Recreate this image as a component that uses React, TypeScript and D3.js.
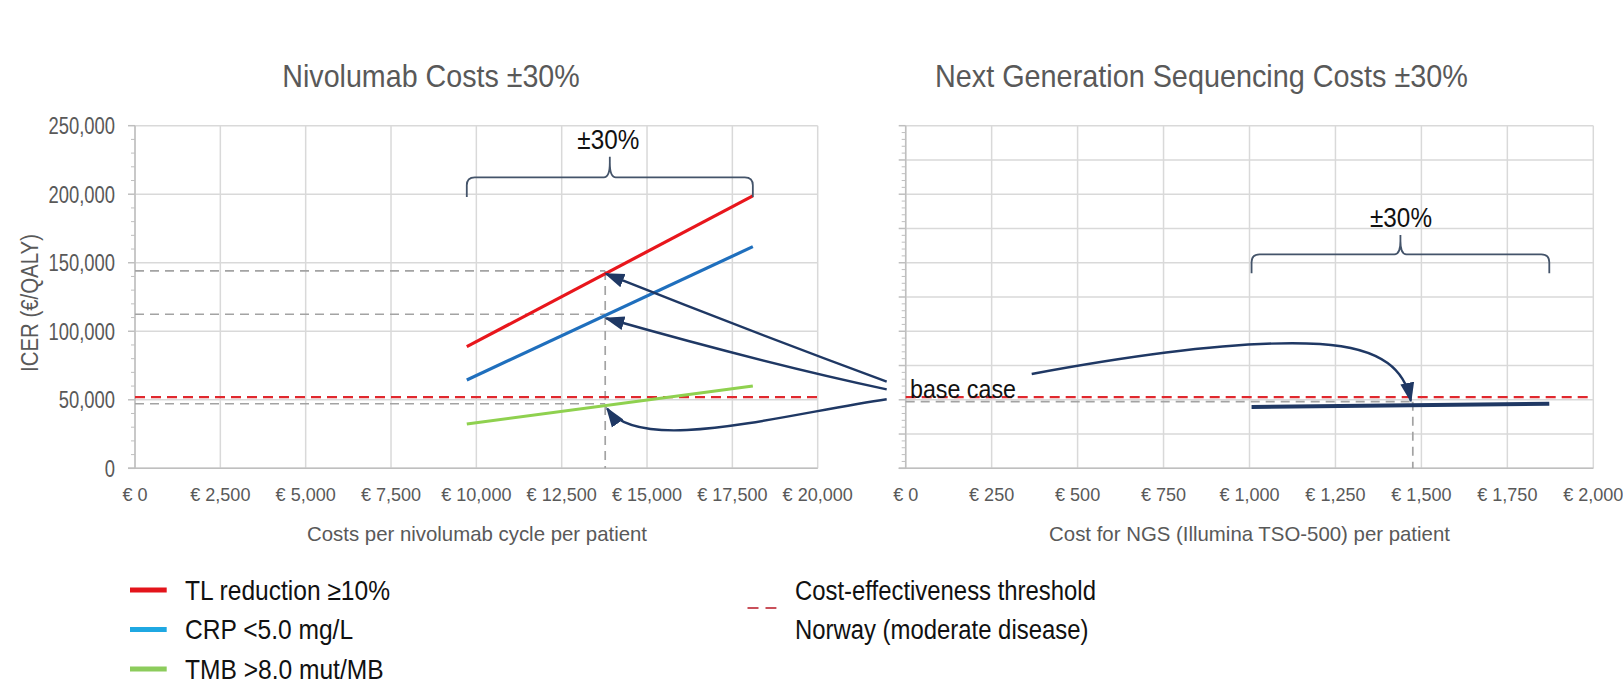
import React from 'react';
import * as d3 from 'd3';

// ---------- data ----------
const nivoTicks = [0, 2500, 5000, 7500, 10000, 12500, 15000, 17500, 20000];
const ngsTicks = [0, 250, 500, 750, 1000, 1250, 1500, 1750, 2000];
const icerTicks = [0, 50000, 100000, 150000, 200000, 250000];
const icerRightGrid = [0, 25000, 50000, 75000, 100000, 125000, 150000, 175000, 200000, 225000, 250000];

const nivoRange = [9720, 18100];
const nivoBase = 13775;
const tlReduction = [88760, 198760];
const crpLow = [64450, 161750];
const tmbHigh = [32340, 60070];
const baseIcerLeft = [144000, 112400, 47100];

const ngsRange = [1006, 1872];
const ngsIcer = [44740, 47150];
const ngsBase = 1475;
const baseIcerRight = 48600;

const threshold = 52000;

const seriesNames = ['TL reduction ≥10%', 'CRP <5.0 mg/L', 'TMB >8.0 mut/MB'];
const seriesValues = [tlReduction, crpLow, tmbHigh];
const seriesColors = ['#e8161c', '#1f6fbd', '#8fd14f'];
const legendColors = ['#e3141b', '#1fa8e2', '#8ccc5c'];
const thresholdLabel = ['Cost-effectiveness threshold', 'Norway (moderate disease)'];

// ---------- layout ----------
const W = 1623, H = 695;
const yTop = 125.7, yBot = 468.3;
const xL = d3.scaleLinear().domain([0, 20000]).range([135, 817.7]);
const xR = d3.scaleLinear().domain([0, 2000]).range([905.7, 1593.3]);
const y = d3.scaleLinear().domain([0, 250000]).range([yBot, yTop]);

const GRID = '#d9d9d9';
const AXIS = '#bfbfbf';
const TXT = '#595959';
const NAVY = '#1f3864';
const BRACE = '#44546a';
const GREY_DASH = '#a3a3a3';
const RED_DASH = '#e0282e';
const FONT = 'Liberation Sans, Arial, sans-serif';

const eur = (v: number) => '€ ' + d3.format(',')(v);

function T(props: any) {
  const { x, y: ty, size, sx = 1, anchor = 'start', fill = TXT, rot = 0, dy, children } = props;
  return (
    <text
      transform={`translate(${x},${ty}) rotate(${rot}) scale(${sx},1)`}
      fontSize={size}
      fontFamily={FONT}
      textAnchor={anchor}
      fill={fill}
      dy={dy}
    >
      {children}
    </text>
  );
}

function bracePath(x1: number, x2: number, yb: number, yh: number, ytop: number) {
  const cx = (x1 + x2) / 2;
  const r = 8;
  const p = d3.path();
  p.moveTo(x1, yb);
  p.lineTo(x1, yh + r);
  p.quadraticCurveTo(x1, yh, x1 + r, yh);
  p.lineTo(cx - 6, yh);
  p.quadraticCurveTo(cx, yh, cx, ytop + 6);
  p.lineTo(cx, ytop);
  p.moveTo(cx, ytop + 6);
  p.quadraticCurveTo(cx, yh, cx + 6, yh);
  p.lineTo(x2 - r, yh);
  p.quadraticCurveTo(x2, yh, x2, yh + r);
  p.lineTo(x2, yb);
  return p.toString();
}

export default function App() {
  const line = d3.line<[number, number]>().x(d => d[0]).y(d => d[1]);
  const leftMinor = d3.range(0, 250001, 10000).filter(v => v % 50000 !== 0);
  const rightMinor = d3.range(0, 250001, 5000).filter(v => v % 25000 !== 0);

  // arrow anchor (base case label)
  const ax = xR(0) - 19;
  const tip1: [number, number] = [xL(nivoBase) + 1, y(baseIcerLeft[0]) + 3];
  const tip2: [number, number] = [xL(nivoBase) + 1, y(baseIcerLeft[1]) + 4];
  const tip3: [number, number] = [xL(nivoBase) + 2, y(baseIcerLeft[2]) + 5];
  const tip4: [number, number] = [xR(ngsBase) - 2, y(baseIcerRight) - 1];

  const xLabelY = 501;
  const axisTitleY = 541;

  return (
    <svg width={W} height={H} style={{ position: 'absolute', left: 0, top: 0, background: '#fff' }}>
      <defs>
        <marker id="ah" viewBox="0 0 20 16" refX="18" refY="8" markerWidth="20" markerHeight="16"
          markerUnits="userSpaceOnUse" orient="auto">
          <path d="M0,1 L20,8 L0,15 z" fill={NAVY} />
        </marker>
      </defs>

      {/* titles */}
      <T x={431} y={86.7} size={32} sx={0.895} anchor="middle">Nivolumab Costs ±30%</T>
      <T x={1201.4} y={86.7} size={32} sx={0.9} anchor="middle">Next Generation Sequencing Costs ±30%</T>

      {/* ---------- left panel ---------- */}
      <g>
        {nivoTicks.map(t => (
          <line key={'lv' + t} x1={xL(t)} x2={xL(t)} y1={yTop} y2={yBot} stroke={GRID} strokeWidth={1.5} />
        ))}
        {icerTicks.map(t => (
          <line key={'lh' + t} x1={xL(0)} x2={xL(20000)} y1={y(t)} y2={y(t)} stroke={GRID} strokeWidth={1.5} />
        ))}
        <line x1={xL(0)} x2={xL(0)} y1={yTop} y2={yBot} stroke={AXIS} strokeWidth={1.5} />
        <line x1={xL(0) - 7} x2={xL(20000)} y1={yBot} y2={yBot} stroke={AXIS} strokeWidth={1.5} />
        {icerTicks.map(t => (
          <line key={'lmt' + t} x1={xL(0) - 7} x2={xL(0)} y1={y(t)} y2={y(t)} stroke={AXIS} strokeWidth={1.5} />
        ))}
        {leftMinor.map(t => (
          <line key={'lm' + t} x1={xL(0) - 4} x2={xL(0)} y1={y(t)} y2={y(t)} stroke={AXIS} strokeWidth={1} />
        ))}
        {icerTicks.map(t => (
          <T key={'ly' + t} x={115} y={y(t)} dy="0.36em" size={23} sx={0.8} anchor="end">{d3.format(',')(t)}</T>
        ))}
        {nivoTicks.map(t => (
          <T key={'lx' + t} x={xL(t)} y={xLabelY} size={19} sx={0.95} anchor="middle">{eur(t)}</T>
        ))}
        <T x={30} y={303} size={24} sx={0.85} rot={-90} anchor="middle" dy="0.35em">ICER (€/QALY)</T>
        <T x={477} y={axisTitleY} size={20.4} anchor="middle">Costs per nivolumab cycle per patient</T>

        {/* base case reference dashes */}
        {baseIcerLeft.map((v, i) => (
          <line key={'gd' + i} x1={xL(0)} x2={xL(nivoBase)} y1={y(v)} y2={y(v)}
            stroke={GREY_DASH} strokeWidth={1.7} strokeDasharray="9,6" />
        ))}
        <line x1={xL(nivoBase)} x2={xL(nivoBase)} y1={y(baseIcerLeft[0])} y2={yBot}
          stroke={GREY_DASH} strokeWidth={1.7} strokeDasharray="9,6" />
        <line x1={xL(0)} x2={xL(20000)} y1={y(threshold)} y2={y(threshold)}
          stroke={RED_DASH} strokeWidth={2.3} strokeDasharray="10,6" />

        {seriesValues.map((s, i) => (
          <path key={'s' + i}
            d={line([[xL(nivoRange[0]), y(s[0])], [xL(nivoRange[1]), y(s[1])]]) || ''}
            stroke={seriesColors[i]} strokeWidth={3.2} fill="none" />
        ))}

        {/* bracket */}
        <path d={bracePath(xL(nivoRange[0]), xL(nivoRange[1]), 197, 177.3, 156.7)}
          stroke={BRACE} strokeWidth={1.8} fill="none" />
        <T x={608.3} y={149.3} size={27} sx={0.9} anchor="middle" fill="#111">±30%</T>
      </g>

      {/* ---------- right panel ---------- */}
      <g>
        {ngsTicks.map(t => (
          <line key={'rv' + t} x1={xR(t)} x2={xR(t)} y1={yTop} y2={yBot} stroke={GRID} strokeWidth={1.5} />
        ))}
        {icerRightGrid.map(t => (
          <line key={'rh' + t} x1={xR(0)} x2={xR(2000)} y1={y(t)} y2={y(t)} stroke={GRID} strokeWidth={1.5} />
        ))}
        <line x1={xR(0)} x2={xR(0)} y1={yTop} y2={yBot} stroke={AXIS} strokeWidth={1.5} />
        <line x1={xR(0) - 7} x2={xR(2000)} y1={yBot} y2={yBot} stroke={AXIS} strokeWidth={1.5} />
        {icerRightGrid.map(t => (
          <line key={'rmt' + t} x1={xR(0) - 7} x2={xR(0)} y1={y(t)} y2={y(t)} stroke={AXIS} strokeWidth={1.5} />
        ))}
        {rightMinor.map(t => (
          <line key={'rm' + t} x1={xR(0) - 4} x2={xR(0)} y1={y(t)} y2={y(t)} stroke={AXIS} strokeWidth={1} />
        ))}
        {ngsTicks.map(t => (
          <T key={'rx' + t} x={xR(t)} y={xLabelY} size={19} sx={0.95} anchor="middle">{eur(t)}</T>
        ))}
        <T x={1249.5} y={axisTitleY} size={20.4} anchor="middle">Cost for NGS (Illumina TSO-500) per patient</T>

        <line x1={xR(0)} x2={xR(ngsBase)} y1={y(baseIcerRight)} y2={y(baseIcerRight)}
          stroke={GREY_DASH} strokeWidth={1.7} strokeDasharray="9,6" />
        <line x1={xR(ngsBase)} x2={xR(ngsBase)} y1={y(baseIcerRight)} y2={yBot}
          stroke={GREY_DASH} strokeWidth={1.7} strokeDasharray="9,6" />
        <line x1={xR(0)} x2={xR(2000)} y1={y(threshold)} y2={y(threshold)}
          stroke={RED_DASH} strokeWidth={2.3} strokeDasharray="10,6" />

        <path d={line([[xR(ngsRange[0]), y(ngsIcer[0])], [xR(ngsRange[1]), y(ngsIcer[1])]]) || ''}
          stroke={NAVY} strokeWidth={4} fill="none" />

        <path d={bracePath(xR(ngsRange[0]), xR(ngsRange[1]), 273.3, 254.3, 235)}
          stroke={BRACE} strokeWidth={1.8} fill="none" />
        <T x={1401} y={226.7} size={27} sx={0.9} anchor="middle" fill="#111">±30%</T>

        <T x={910} y={398.3} size={25} sx={0.93} fill="#111">base case</T>
      </g>

      {/* ---------- arrows ---------- */}
      <g stroke={NAVY} strokeWidth={2.4} fill="none">
        <path d={`M${ax},381.7 Q${(ax + tip1[0]) / 2},${(381.7 + tip1[1]) / 2 + 2} ${tip1[0]},${tip1[1]}`} markerEnd="url(#ah)" />
        <path d={`M${ax},389.3 Q${(ax + tip2[0]) / 2 + 20},${(389.3 + tip2[1]) / 2 + 10} ${tip2[0]},${tip2[1]}`} markerEnd="url(#ah)" />
        <path d={`M${ax},399.3 C780,415 640,455 ${tip3[0]},${tip3[1]}`} markerEnd="url(#ah)" />
        <path d={`M1031.7,374 C1150,352 1250,340 1320,344 C1385,348 1405,372 ${tip4[0]},${tip4[1]}`} markerEnd="url(#ah)" />
      </g>

      {/* ---------- legend ---------- */}
      <g>
        {seriesNames.map((n, i) => (
          <g key={'lg' + i}>
            <line x1={130} x2={166.7} y1={590 + i * 39.5} y2={590 + i * 39.5} stroke={legendColors[i]} strokeWidth={5} />
            <T x={185} y={599.5 + i * 39.5} size={27} sx={0.91} fill="#111">{n}</T>
          </g>
        ))}
        <line x1={747.5} x2={776.4} y1={608} y2={608} stroke="#c9505a" strokeWidth={2} strokeDasharray="11,7" />
        {thresholdLabel.map((n, i) => (
          <T key={'tl' + i} x={795} y={599.5 + i * 39.5} size={27} sx={0.885} fill="#111">{n}</T>
        ))}
      </g>
    </svg>
  );
}
